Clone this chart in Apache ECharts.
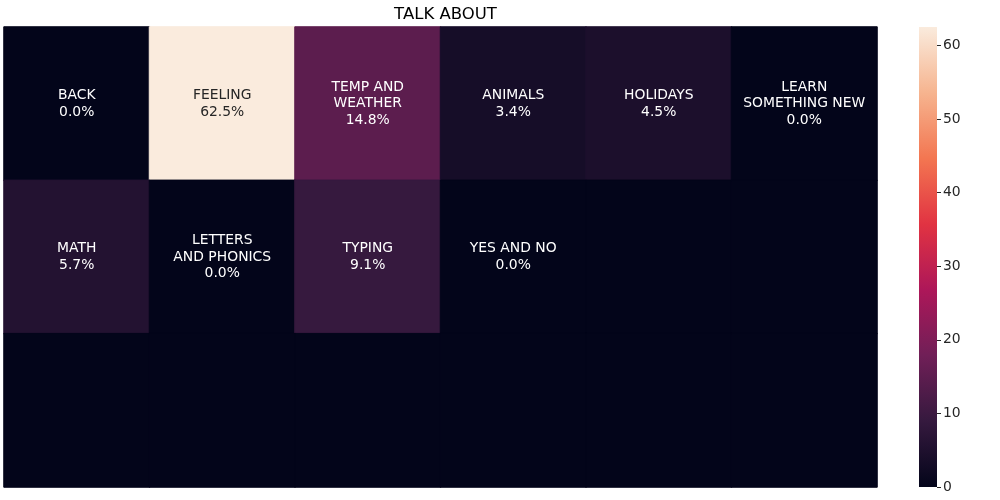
<!DOCTYPE html>
<html>
<head>
<meta charset="utf-8">
<script src="https://cdn.jsdelivr.net/npm/echarts@6/dist/echarts.min.js"></script>
<style>
    html, body {margin: 0; padding: 0; background: #fff;}
    #chart {width: 1000px; height: 500px;}
</style>
</head>
<body>
<div id="chart"></div>
<script>
// heatmap grid: 3 rows x 6 columns
const colKeys = ['c0', 'c1', 'c2', 'c3', 'c4', 'c5'];
const rowKeys = ['r0', 'r1', 'r2'];
const cellLabels = [
    ['BACK', 'FEELING', 'TEMP AND\nWEATHER', 'ANIMALS', 'HOLIDAYS', 'LEARN\nSOMETHING NEW'],
    ['MATH', 'LETTERS\nAND PHONICS', 'TYPING', 'YES AND NO', '', ''],
    ['', '', '', '', '', '']
];
const cellValues = [
    [0.0, 62.5, 14.8, 3.4, 4.5, 0.0],
    [5.7, 0.0, 9.1, 0.0, 0, 0],
    [0, 0, 0, 0, 0, 0]
];
const colorbarTicks = [0, 10, 20, 30, 40, 50, 60];
const vMax = 62.5;

// seaborn "rocket" sampled at i/7
const rocket = ['#03051a', '#35193e', '#701f57', '#ad1759', '#e13342', '#f37651', '#f6b48f', '#faebdd'];

const chart = echarts.init(document.getElementById('chart'));

const heatData = [];
rowKeys.forEach(function (r, ri) {
    colKeys.forEach(function (c, ci) {
        const v = cellValues[ri][ci];
        const name = cellLabels[ri][ci];
        heatData.push({
            value: [ci, ri, v],
            name: name,
            label: {color: v / vMax > 0.6 ? '#262626' : '#ffffff'},
            // same-colour border hides the antialiasing seams between cells
            itemStyle: {borderWidth: 1, borderColor: echarts.color.lerp(v / vMax, rocket)}
        });
    });
});

const option = {
    animation: false,
    title: {
        text: 'TALK ABOUT',
        left: 440.5,
        textAlign: 'center',
        top: 1,
        textStyle: {fontFamily: 'DejaVu Sans', fontSize: 16.5, fontWeight: 'normal', color: '#000'}
    },
    grid: [
        {left: 4, right: 123, top: 27, bottom: 13},
        {left: 919, width: 18, top: 27, bottom: 13}
    ],
    xAxis: [
        {type: 'category', data: colKeys, gridIndex: 0, show: false},
        {type: 'category', data: ['cb'], gridIndex: 1, show: false}
    ],
    yAxis: [
        {type: 'category', data: rowKeys, gridIndex: 0, inverse: true, show: false},
        {
            type: 'value', gridIndex: 1, min: 0, max: vMax, interval: 10, position: 'right',
            axisLine: {show: false},
            splitLine: {show: false},
            axisTick: {show: true, length: 4, customValues: colorbarTicks, lineStyle: {color: '#262626', width: 1}},
            axisLabel: {
                margin: 6, fontFamily: 'DejaVu Sans', fontSize: 13.9, color: '#262626',
                customValues: colorbarTicks
            }
        }
    ],
    visualMap: {
        show: false,
        type: 'continuous',
        min: 0,
        max: vMax,
        dimension: 2,
        seriesIndex: 0,
        inRange: {color: rocket}
    },
    series: [
        {
            type: 'heatmap',
            xAxisIndex: 0,
            yAxisIndex: 0,
            data: heatData,
            label: {
                show: true,
                fontFamily: 'DejaVu Sans',
                fontSize: 13.9,
                lineHeight: 16.5,
                align: 'center',
                formatter: function (p) {
                    if (!p.name) return '';
                    return p.name + '\n' + p.value[2].toFixed(1) + '%';
                }
            }
        },
        {
            type: 'bar',
            xAxisIndex: 1,
            yAxisIndex: 1,
            barWidth: '100%',
            data: [vMax],
            silent: true,
            itemStyle: {
                color: new echarts.graphic.LinearGradient(0, 1, 0, 0,
                    rocket.map(function (c, i) { return {offset: i / (rocket.length - 1), color: c}; }))
            }
        }
    ]
};

chart.setOption(option);
</script>
</body>
</html>
